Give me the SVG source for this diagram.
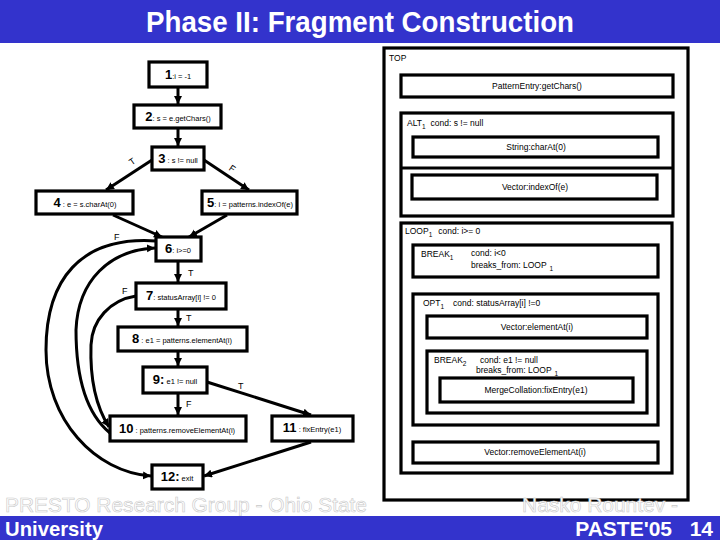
<svg xmlns="http://www.w3.org/2000/svg" width="720" height="540" viewBox="0 0 720 540">
<defs>
<marker id="ah" markerUnits="userSpaceOnUse" markerWidth="10" markerHeight="10" refX="8" refY="4" orient="auto">
<path d="M0,0 L8,4 L0,8 Z" fill="#000"/>
</marker>
<style>
.bar{fill:#3333cc}
.box{fill:#fff;stroke:#000;stroke-width:3.2}
.frm{fill:none;stroke:#000;stroke-width:3.2}
.e{fill:none;stroke:#000;stroke-width:3;marker-end:url(#ah)}
.t{font-family:"Liberation Sans",Arial,sans-serif;font-size:7.5px;fill:#000}
.n{font-weight:bold;font-size:13px}
.lb{font-family:"Liberation Sans",Arial,sans-serif;font-size:9px;fill:#000}
.s{font-family:"Liberation Sans",Arial,sans-serif;font-size:8.5px;fill:#000}
.sub{font-size:6.5px}
.ft{font-family:"Liberation Sans",Arial,sans-serif;font-size:21px;fill:#fff;stroke:#c8c8c8;stroke-width:0.6}
.wt{font-family:"Liberation Sans",Arial,sans-serif;font-weight:bold;fill:#fff}
</style>
</defs>
<rect x="0" y="0" width="720" height="540" fill="#fff"/>
<rect class="bar" x="0" y="0" width="720" height="43"/>
<text class="wt" x="360" y="32" font-size="29" text-anchor="middle" textLength="428" lengthAdjust="spacingAndGlyphs">Phase II: Fragment Construction</text>

<!-- Right side: fragment structure -->
<g id="top">
<rect class="frm" x="384" y="48" width="304" height="452"/>
<text class="s" x="389" y="61">TOP</text>
</g>
<g id="getChars">
<rect class="frm" x="401" y="75" width="272" height="22"/>
<text class="s" x="537" y="89" text-anchor="middle">PatternEntry:getChars()</text>
</g>
<g id="alt1">
<rect class="frm" x="401" y="113" width="272" height="103"/>
<line x1="401" y1="168" x2="673" y2="168" stroke="#000" stroke-width="3.2"/>
<text class="s" x="407" y="126">ALT<tspan class="sub" dy="3">1</tspan><tspan dy="-3" dx="5">cond: s != null</tspan></text>
</g>
<g id="charAt">
<rect class="frm" x="413" y="137" width="245" height="20"/>
<text class="s" x="536" y="150" text-anchor="middle">String:charAt(0)</text>
</g>
<g id="indexOf">
<rect class="frm" x="412" y="175" width="245" height="24"/>
<text class="s" x="535" y="190" text-anchor="middle">Vector:indexOf(e)</text>
</g>
<g id="loop1">
<rect class="frm" x="401" y="223" width="271" height="250"/>
<text class="s" x="405" y="234">LOOP<tspan class="sub" dy="3">1</tspan><tspan dy="-3" dx="6">cond: i&gt;= 0</tspan></text>
</g>
<g id="break1">
<rect class="frm" x="413" y="245" width="245" height="32"/>
<text class="s" x="421" y="257">BREAK<tspan class="sub" dy="3">1</tspan></text>
<text class="s" x="471" y="256">cond: i&lt;0</text>
<text class="s" x="471" y="268">breaks_from: LOOP<tspan class="sub" dy="3" dx="3">1</tspan></text>
</g>
<g id="opt1">
<rect class="frm" x="413" y="294" width="245" height="131"/>
<text class="s" x="423" y="306">OPT<tspan class="sub" dy="3">1</tspan><tspan dy="-3" dx="9">cond: statusArray[i] !=0</tspan></text>
</g>
<g id="elementAt">
<rect class="frm" x="427" y="316" width="220" height="22"/>
<text class="s" x="537" y="330" text-anchor="middle">Vector:elementAt(i)</text>
</g>
<g id="break2">
<rect class="frm" x="427" y="351" width="220" height="62"/>
<text class="s" x="434" y="363">BREAK<tspan class="sub" dy="3">2</tspan></text>
<text class="s" x="480" y="363">cond: e1 != null</text>
<text class="s" x="476" y="373">breaks_from: LOOP<tspan class="sub" dy="3" dx="3">1</tspan></text>
</g>
<g id="fixEntryBox">
<rect class="frm" x="440" y="378" width="193" height="24"/>
<text class="s" x="536" y="393" text-anchor="middle">MergeCollation:fixEntry(e1)</text>
</g>
<g id="removeElementAt">
<rect class="frm" x="413" y="442" width="245" height="21"/>
<text class="s" x="535" y="455" text-anchor="middle">Vector:removeElementAt(i)</text>
</g>

<!-- Left side: CFG -->
<g id="edges">
<path class="e" d="M178,87 L178,104"/>
<path class="e" d="M178,128 L178,146"/>
<path class="e" d="M152,160 L106,190"/>
<path class="e" d="M204,160 L249,190"/>
<path class="e" d="M113,215 L162,237"/>
<path class="e" d="M227,215 L189,237"/>
<path class="e" d="M178,261 L178,282"/>
<path class="e" d="M178,309 L178,326"/>
<path class="e" d="M178,351 L178,366"/>
<path class="e" d="M178,393 L178,415"/>
<path class="e" d="M207,382 L311,415"/>
<path class="e" d="M311,442 L204,476"/>
<path class="e" d="M156,241 C80,236 46,280 46,350 C46,420 95,472 151,476"/>
<path class="e" d="M110,433 C88,415 76,380 76,330 C78,280 110,250 155,248"/>
<path class="e" d="M136,296 C110,300 92,320 91,345 C90,375 95,405 109,427"/>
<text class="lb" x="130" y="166" transform="rotate(-35 130 163)">T</text>
<text class="lb" x="230" y="170" transform="rotate(35 230 167)">F</text>
<text class="lb" x="114" y="240">F</text>
<text class="lb" x="122" y="294">F</text>
<text class="lb" x="188" y="276">T</text>
<text class="lb" x="186" y="321">T</text>
<text class="lb" x="186" y="407">F</text>
<text class="lb" x="238" y="389">T</text>
</g>

<g id="n1">
<rect class="box" x="149" y="62" width="58" height="25"/>
<text class="t" x="178" y="79" text-anchor="middle"><tspan class="n">1</tspan>:i = -1</text>
</g>
<g id="n2">
<rect class="box" x="134" y="105" width="87" height="23"/>
<text class="t" x="178" y="121" text-anchor="middle"><tspan class="n">2</tspan>: s = e.getChars()</text>
</g>
<g id="n3">
<rect class="box" x="152" y="147" width="52" height="23"/>
<text class="t" x="178" y="163" text-anchor="middle"><tspan class="n">3</tspan> : s != null</text>
</g>
<g id="n4">
<rect class="box" x="36" y="191" width="97" height="23"/>
<text class="t" x="85" y="207" text-anchor="middle"><tspan class="n">4</tspan>  : e = s.charAt(0)</text>
</g>
<g id="n5">
<rect class="box" x="202" y="191" width="95" height="23"/>
<text class="t" x="250" y="207" text-anchor="middle"><tspan class="n">5</tspan>: i = patterns.indexOf(e)</text>
</g>
<g id="n6">
<rect class="box" x="156" y="237" width="45" height="24"/>
<text class="t" x="178" y="253" text-anchor="middle"><tspan class="n">6</tspan>: i&gt;=0</text>
</g>
<g id="n7">
<rect class="box" x="136" y="283" width="90" height="26"/>
<text class="t" x="181" y="300" text-anchor="middle"><tspan class="n">7</tspan>: statusArray[i] != 0</text>
</g>
<g id="n8">
<rect class="box" x="118" y="327" width="129" height="24"/>
<text class="t" x="182" y="343" text-anchor="middle"><tspan class="n">8</tspan> : e1 = patterns.elementAt(i)</text>
</g>
<g id="n9">
<rect class="box" x="143" y="367" width="64" height="26"/>
<text class="t" x="175" y="384" text-anchor="middle"><tspan class="n">9:</tspan>   e1 != null</text>
</g>
<g id="n10">
<rect class="box" x="110" y="416" width="136" height="25"/>
<text class="t" x="177" y="433" text-anchor="middle"><tspan class="n">10</tspan> : patterns.removeElementAt(i)</text>
</g>
<g id="n11">
<rect class="box" x="272" y="416" width="81" height="25"/>
<text class="t" x="312" y="432" text-anchor="middle"><tspan class="n">11</tspan> : fixEntry(e1)</text>
</g>
<g id="n12">
<rect class="box" x="152" y="465" width="51" height="24"/>
<text class="t" x="177" y="481" text-anchor="middle"><tspan class="n">12:</tspan> exit</text>
</g>

<!-- footer -->
<text class="ft" x="5" y="512" textLength="362" lengthAdjust="spacingAndGlyphs">PRESTO Research Group - Ohio State</text>
<text class="ft" x="522" y="512" textLength="156" lengthAdjust="spacingAndGlyphs">Nasko Rountev -</text>
<rect class="bar" x="0" y="516" width="720" height="24"/>
<text class="wt" x="5" y="536" font-size="21" textLength="98" lengthAdjust="spacingAndGlyphs">University</text>
<text class="wt" x="672" y="536" font-size="21" text-anchor="end">PASTE'05</text>
<text class="wt" x="713" y="536" font-size="21" text-anchor="end">14</text>
</svg>
